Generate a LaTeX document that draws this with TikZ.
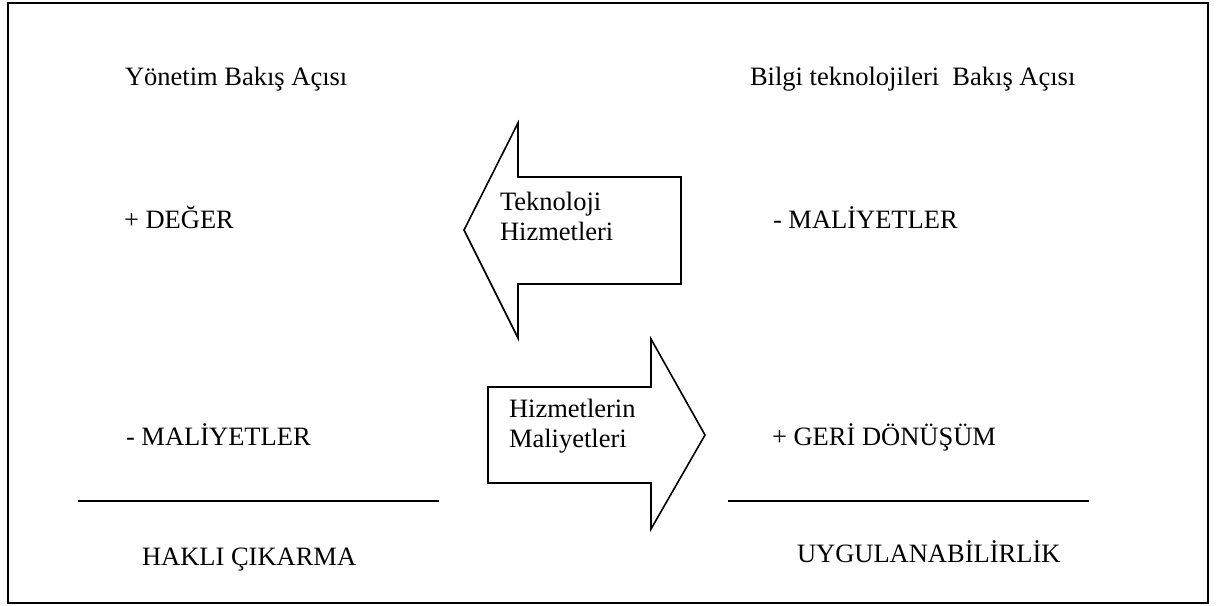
\documentclass[tikz,border=0pt]{standalone}
\usepackage{fontspec}
\setmainfont{Liberation Serif}
\begin{document}
\begin{tikzpicture}[x=1pt,y=-1pt,
  lbl/.style={anchor=base west,inner sep=0pt,outer sep=0pt,font=\fontsize{26.5}{30}\selectfont},
  frame/.style={draw=black,line width=2pt},
  rule/.style={draw=black,line width=2.2pt},
  bigarrow/.style={draw=black,line width=1.6pt,line join=miter,fill=white}]
\useasboundingbox (0,0) rectangle (1218,605);
% outer frame
\draw[frame] (8,2.5) rectangle (1208,603);

% column headings
\node[lbl] (hL) at (125,85) {Yönetim Bakış Açısı};
\node[lbl] (hR) at (750,85) {Bilgi teknolojileri\ \ Bakış Açısı};

% upper row
\node[lbl] (deger) at (124,228) {+ DEĞER};
\node[lbl] (malR) at (773,228) {- MALİYETLER};

% lower row
\node[lbl] (malL) at (126,445) {- MALİYETLER};
\node[lbl] (geri) at (772,445) {+ GERİ DÖNÜŞÜM};

% left-pointing block arrow
\draw[bigarrow] (464,230) -- (518,123) -- (518,177) -- (681,177) -- (681,284)
  -- (518,284) -- (518,338) -- cycle;
\node[lbl] (tek1) at (500,210) {Teknoloji};
\node[lbl] (tek2) at (500,240) {Hizmetleri};

% right-pointing block arrow
\draw[bigarrow] (705,435) -- (651,339) -- (651,387) -- (488,387) -- (488,483)
  -- (651,483) -- (651,529) -- cycle;
\node[lbl] (hiz1) at (509,417) {Hizmetlerin};
\node[lbl] (hiz2) at (509,447) {Maliyetleri};

% fraction rules
\coordinate (rLa) at (78,501);
\coordinate (rLb) at (439,501);
\coordinate (rRa) at (728,501);
\coordinate (rRb) at (1089,501);
\draw[rule] (rLa) -- (rLb);
\draw[rule] (rRa) -- (rRb);

% bottom results
\node[lbl] (hakli) at (142,565) {HAKLI ÇIKARMA};
\node[lbl] (uygu) at (797,562) {UYGULANABİLİRLİK};
\end{tikzpicture}
\end{document}
